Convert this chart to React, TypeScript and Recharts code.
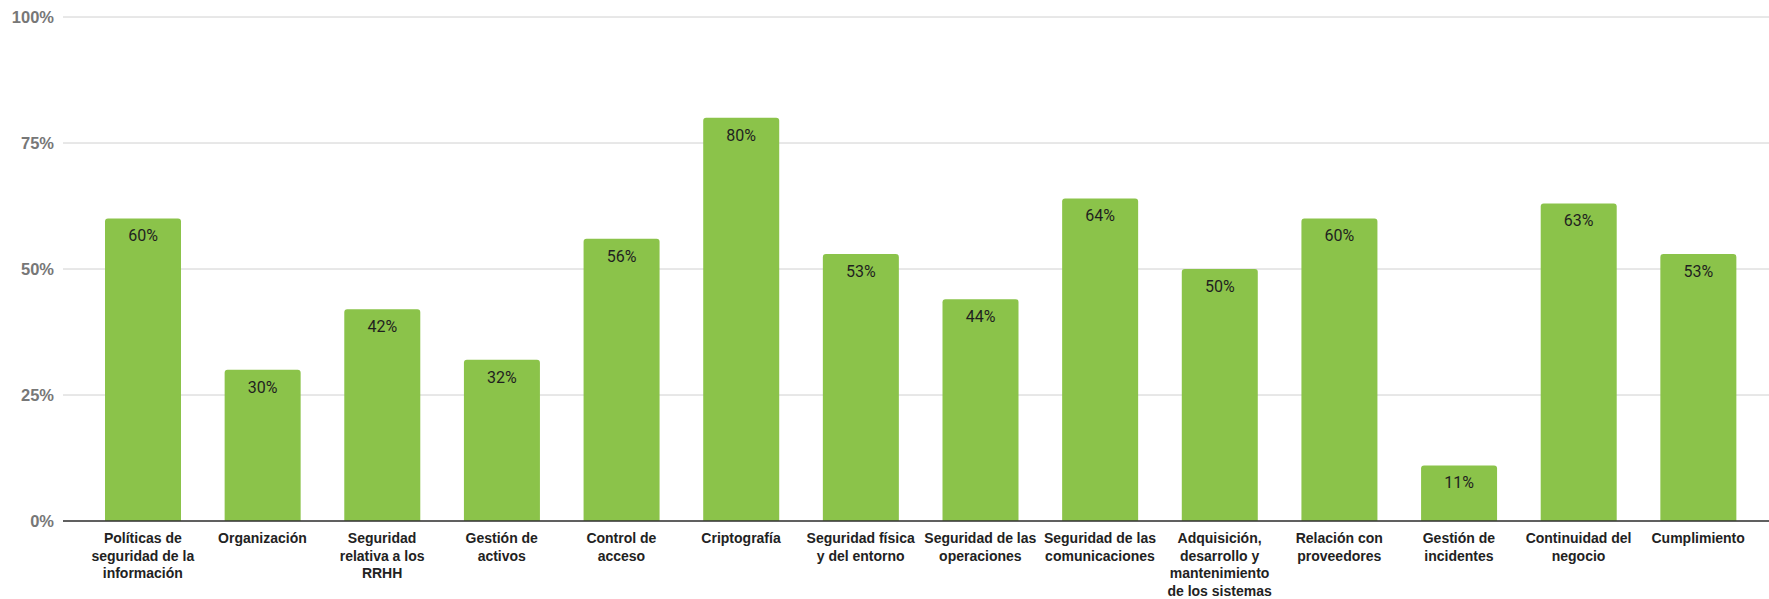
import React from "react";
import {
  BarChart,
  Bar,
  XAxis,
  YAxis,
  CartesianGrid,
  LabelList,
} from "recharts";

// Security domains (tick labels, pre-wrapped into lines)
const categories: string[] = [
  "Políticas de\nseguridad de la\ninformación",
  "Organización",
  "Seguridad\nrelativa a los\nRRHH",
  "Gestión de\nactivos",
  "Control de\nacceso",
  "Criptografía",
  "Seguridad física\ny del entorno",
  "Seguridad de las\noperaciones",
  "Seguridad de las\ncomunicaciones",
  "Adquisición,\ndesarrollo y\nmantenimiento\nde los sistemas",
  "Relación con\nproveedores",
  "Gestión de\nincidentes",
  "Continuidad del\nnegocio",
  "Cumplimiento",
];

// Compliance level per domain (%)
const compliance: number[] = [60, 30, 42, 32, 56, 80, 53, 44, 64, 50, 60, 11, 63, 53];

// Y axis ticks (%)
const yTicks: number[] = [0, 25, 50, 75, 100];

const data = categories.map((name, i) => ({ name, value: compliance[i] }));

const LABEL_FONT = "'Liberation Sans', Arial, sans-serif";
const VALUE_FONT = "Roboto, 'Noto Sans', sans-serif";

const CategoryTick = (props: any) => {
  const { x, y, payload } = props;
  const lines: string[] = String(payload.value).split("\n");
  return (
    <text
      x={x}
      y={y}
      textAnchor="middle"
      fill="#222222"
      fontFamily={LABEL_FONT}
      fontSize={14}
      fontWeight={700}
    >
      {lines.map((line, i) => (
        <tspan key={i} x={x} dy={i === 0 ? 14 : 17.6}>
          {line}
        </tspan>
      ))}
    </text>
  );
};

export default function App() {
  return (
    <div style={{ position: "absolute", left: 0, top: 0, background: "#ffffff" }}>
      <BarChart
        width={1769}
        height={599}
        data={data}
        margin={{ top: 17, right: 0, bottom: 0, left: 0 }}
        barSize={76}
      >
        <CartesianGrid vertical={false} stroke="#d0d0d0" strokeWidth={1} />
        <XAxis
          dataKey="name"
          interval={0}
          height={78}
          padding={{ left: 20, right: 11 }}
          tickLine={false}
          axisLine={{ stroke: "#333333", strokeWidth: 1.5 }}
          tick={<CategoryTick />}
        />
        <YAxis
          width={63}
          domain={[0, 100]}
          ticks={yTicks}
          tickFormatter={(v: number) => `${v}%`}
          axisLine={false}
          tickLine={false}
          tickMargin={3}
          tick={{
            fill: "#777777",
            fontFamily: LABEL_FONT,
            fontSize: 16.5,
            fontWeight: 700,
          }}
        />
        <Bar
          dataKey="value"
          fill="#8bc34a"
          radius={[3, 3, 0, 0]}
          isAnimationActive={false}
        >
          <LabelList
            dataKey="value"
            position="insideTop"
            offset={11.5}
            formatter={(v: number) => `${v}%`}
            fill="#1f1f1f"
            fontFamily={VALUE_FONT}
            fontSize={16}
          />
        </Bar>
      </BarChart>
    </div>
  );
}
